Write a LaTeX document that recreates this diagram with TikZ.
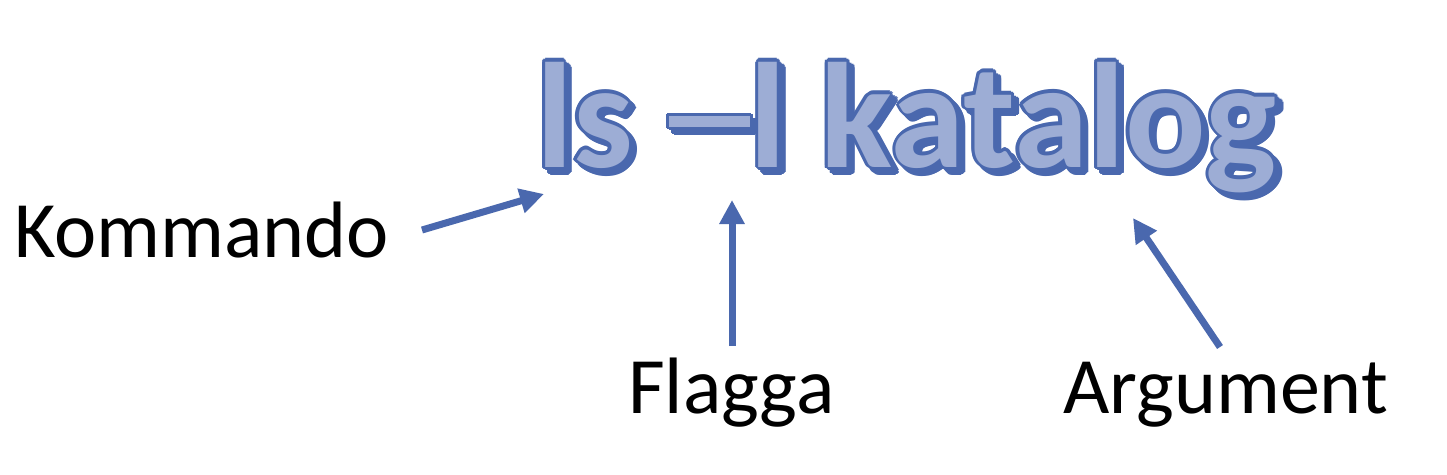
\documentclass[tikz,border=0pt]{standalone}
\usepackage{fontspec}
\setmainfont{Carlito}
\usetikzlibrary{arrows.meta}
\definecolor{cmdblue}{HTML}{4A68AE}
\definecolor{cmdfill}{HTML}{9DADD5}
\tikzset{
  bigtxt/.style={inner sep=0pt, anchor=base west, font=\fontsize{150}{150}\selectfont\bfseries},
  lbl/.style={inner sep=0pt, anchor=base west, font=\fontsize{80}{80}\selectfont, text=black},
  bluearrow/.style={draw=cmdblue, line width=7pt, -{Triangle[length=24pt,width=24pt]}}
}
\newcommand{\cmdline}{ls\hspace{0.24em}\rule[0.27em]{0.54em}{0.07em}l katalog}
\begin{document}
\begin{tikzpicture}[x=1pt,y=-1pt]
\fill[white] (0,0) rectangle (1447,474);
\useasboundingbox (0,0) rectangle (1447,474);
% shadow
\foreach \a in {0,30,...,330}{
  \node[bigtxt, text=cmdblue, xshift={5pt+3.2pt*cos(\a)}, yshift={-5pt+3.2pt*sin(\a)}] (sh\a) at (536,167) {\cmdline};
}
% outline
\foreach \a in {0,30,...,330}{
  \node[bigtxt, text=cmdblue, xshift={3.2pt*cos(\a)}, yshift={3.2pt*sin(\a)}] (ol\a) at (536,167) {\cmdline};
}
% fill
\node[bigtxt, text=cmdfill] (cmd) at (536,167) {\cmdline};

% labels
\node[lbl] (kom) at (14,257) {Kommando};
\node[lbl] (fla) at (628,413) {Flagga};
\node[lbl] (arg) at (1063,413) {Argument};

% arrow ends
\coordinate (komS) at (422,230);
\coordinate (komT) at (544,194);
\coordinate (flaS) at (732,346);
\coordinate (flaT) at (732,200);
\coordinate (argS) at (1220,347);
\coordinate (argT) at (1133,218);
\draw[bluearrow] (komS) -- (komT);
\draw[bluearrow] (flaS) -- (flaT);
\draw[bluearrow] (argS) -- (argT);
\end{tikzpicture}
\end{document}
